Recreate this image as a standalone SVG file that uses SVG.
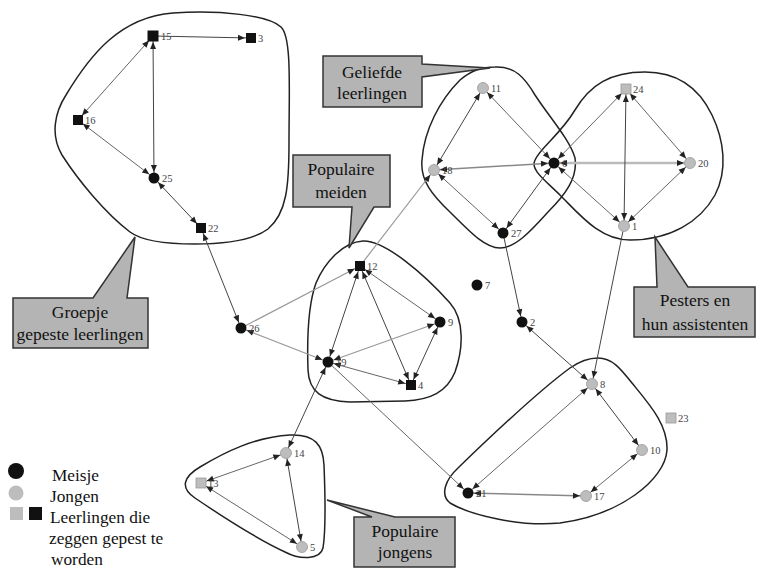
<svg xmlns="http://www.w3.org/2000/svg" width="758" height="569" viewBox="0 0 758 569">
<style>
.hull{fill:none;stroke:#222;stroke-width:1.5}
.call{fill:#b4b4b4;stroke:#333;stroke-width:1.5;stroke-linejoin:miter}
.ct{font-family:'Liberation Serif','DejaVu Serif',serif;font-size:17.5px;fill:#111;text-anchor:middle}
.lg{font-family:'Liberation Serif','DejaVu Serif',serif;font-size:17.3px;fill:#111}
.e{stroke:#444;stroke-width:1;fill:none}
.m{stroke:#666}
.l{stroke:#999;stroke-width:1.2}
.g{stroke:#888;stroke-width:1.6}
.t{stroke:#bbb;stroke-width:2.6}
.b{marker-start:url(#ah);marker-end:url(#ah)}
.f{marker-end:url(#ah)}
.bk{fill:#111}
.gr{fill:#bdbdbd;stroke:#999;stroke-width:0.8}
.nl{font-family:'Liberation Serif','DejaVu Serif',serif;font-size:10.5px;fill:#444}
</style>
<defs>
<marker id="ah" markerUnits="userSpaceOnUse" markerWidth="14" markerHeight="6" refX="13" refY="3" orient="auto-start-reverse" overflow="visible">
<path d="M0,0 L7,3 L0,6 Z" fill="#222"/>
</marker>
</defs>
<rect width="758" height="569" fill="#fff"/>

<g id="hulls">
<path class="hull" d="M 173,13 C 220,10 268,15 281,27 C 292,37 289,90 289,143 C 289,185 287,213 268,229 C 252,241 225,244 195,244 C 165,244 142,241 130,232 C 105,213 78,180 62,155 C 50,135 55,112 66,95 C 90,55 120,17 173,13 Z"/>
<path class="hull" d="M 363,241 C 385,240 425,275 450,303 C 465,320 463,350 455,372 C 447,392 430,400 405,401 L 350,402 C 322,401 309,392 308,370 C 307,340 308,305 316,283 C 325,262 343,242 363,241 Z"/>
<path class="hull" d="M 495,67 C 515,66 525,78 535,95 C 550,118 570,140 575,158 C 578,178 565,195 548,212 C 530,232 515,248 500,248 C 485,248 470,232 450,212 C 432,195 420,180 422,160 C 424,130 440,100 460,80 C 472,70 482,67 495,67 Z"/>
<path class="hull" d="M 645,72 C 680,72 700,90 712,115 C 724,140 728,170 715,195 C 700,222 670,240 630,240 C 600,240 580,215 560,195 C 545,180 530,170 535,160 C 540,148 560,135 575,110 C 590,85 610,72 645,72 Z"/>
<path class="hull" d="M 598,358 C 612,358 620,368 632,383 C 650,405 668,425 667,450 C 665,480 620,515 560,523 C 520,527 470,515 450,503 C 440,495 445,480 458,468 C 490,437 540,390 570,368 C 580,361 590,358 598,358 Z"/>
<path class="hull" d="M 290,435 C 315,434 323,445 324,465 C 325,490 326,530 323,548 C 320,560 300,560 285,552 C 255,538 220,515 195,498 C 180,488 183,477 200,467 C 225,452 255,437 290,435 Z"/>
</g>

<g id="callouts">
<g id="callout-groepje">
<path class="call" d="M13,298 L93,298 L135,237 L127,298 L148,298 L148,348 L13,348 Z"/>
<text class="ct" x="80" y="318">Groepje</text>
<text class="ct" x="80" y="340">gepeste leerlingen</text>
</g>
<g id="callout-meiden">
<path class="call" d="M293,155 L390,155 L390,207 L374,207 L349,248 L352,207 L293,207 Z"/>
<text class="ct" x="341" y="175">Populaire</text>
<text class="ct" x="341" y="198">meiden</text>
</g>
<g id="callout-geliefde">
<path class="call" d="M323,56 L422,56 L422,64 L490,68 L422,77 L422,107 L323,107 Z"/>
<text class="ct" x="372" y="78">Geliefde</text>
<text class="ct" x="372" y="99">leerlingen</text>
</g>
<g id="callout-pesters">
<path class="call" d="M634,287 L657,287 L655,237 L688,287 L755,287 L755,337 L634,337 Z"/>
<text class="ct" x="695" y="306">Pesters en</text>
<text class="ct" x="695" y="330">hun assistenten</text>
</g>
<g id="callout-jongens">
<path class="call" d="M354,517 L372,517 L327,500 L395,517 L455,517 L455,567 L354,567 Z"/>
<text class="ct" x="405" y="537">Populaire</text>
<text class="ct" x="405" y="558">jongens</text>
</g>
</g>

<g id="connectors">
<line class="e f" x1="153" y1="36" x2="251" y2="38"/>
<line class="e m b" x1="153" y1="36" x2="78" y2="120"/>
<line class="e b" x1="153" y1="36" x2="154" y2="178"/>
<line class="e m b" x1="78" y1="120" x2="154" y2="178"/>
<line class="e b" x1="154" y1="178" x2="201" y2="228"/>
<line class="e b" x1="201" y1="228" x2="241" y2="328"/>
<line class="e l f" x1="241" y1="328" x2="360" y2="266"/>
<line class="e l b" x1="241" y1="328" x2="328" y2="362"/>
<line class="e m b" x1="360" y1="266" x2="440" y2="322"/>
<line class="e b" x1="360" y1="266" x2="328" y2="362"/>
<line class="e b" x1="360" y1="266" x2="411" y2="385"/>
<line class="e l b" x1="328" y1="362" x2="440" y2="322"/>
<line class="e m b" x1="328" y1="362" x2="411" y2="385"/>
<line class="e b" x1="440" y1="322" x2="411" y2="385"/>
<line class="e l f" x1="360" y1="266" x2="434" y2="170"/>
<line class="e b" x1="328" y1="362" x2="286" y2="453"/>
<line class="e m f" x1="328" y1="362" x2="468" y2="493"/>
<line class="e b" x1="483" y1="88" x2="434" y2="170"/>
<line class="e m b" x1="483" y1="88" x2="554" y2="163"/>
<line class="e g b" x1="434" y1="170" x2="554" y2="163"/>
<line class="e m b" x1="434" y1="170" x2="503" y2="233"/>
<line class="e b" x1="554" y1="163" x2="503" y2="233"/>
<line class="e f" x1="503" y1="233" x2="522" y2="322"/>
<line class="e b" x1="522" y1="322" x2="592" y2="384"/>
<line class="e m b" x1="554" y1="163" x2="626" y2="89"/>
<line class="e t b" x1="554" y1="163" x2="690" y2="163"/>
<line class="e m b" x1="554" y1="163" x2="624" y2="226"/>
<line class="e b" x1="626" y1="89" x2="624" y2="226"/>
<line class="e m b" x1="626" y1="89" x2="690" y2="163"/>
<line class="e m b" x1="690" y1="163" x2="624" y2="226"/>
<line class="e f" x1="624" y1="226" x2="592" y2="384"/>
<line class="e b" x1="592" y1="384" x2="642" y2="450"/>
<line class="e m b" x1="592" y1="384" x2="468" y2="493"/>
<line class="e g b" x1="468" y1="493" x2="586" y2="496"/>
<line class="e m b" x1="586" y1="496" x2="642" y2="450"/>
<line class="e m b" x1="286" y1="453" x2="201" y2="483"/>
<line class="e b" x1="286" y1="453" x2="302" y2="547"/>
<line class="e m b" x1="201" y1="483" x2="302" y2="547"/>
</g>

<g id="node-15"><rect class="bk" x="147.5" y="30.5" width="11" height="11"/><text class="nl" x="161" y="40">15</text></g>
<g id="node-3"><rect class="bk" x="246" y="33" width="10" height="10"/><text class="nl" x="258" y="42">3</text></g>
<g id="node-16"><rect class="bk" x="73" y="115" width="10" height="10"/><text class="nl" x="85" y="124">16</text></g>
<g id="node-25"><circle class="bk" cx="154" cy="178" r="5.5"/><text class="nl" x="162" y="182">25</text></g>
<g id="node-22"><rect class="bk" x="196" y="223" width="10" height="10"/><text class="nl" x="208" y="232">22</text></g>
<g id="node-26"><circle class="bk" cx="241" cy="328" r="5.5"/><text class="nl" x="249" y="332">26</text></g>
<g id="node-12"><rect class="bk" x="355" y="261" width="10" height="10"/><text class="nl" x="367" y="270">12</text></g>
<g id="node-9"><circle class="bk" cx="440" cy="322" r="5.5"/><text class="nl" x="448" y="326">9</text></g>
<g id="node-19"><circle class="bk" cx="328" cy="362" r="5.5"/><text class="nl" x="336" y="366">19</text></g>
<g id="node-4"><rect class="bk" x="406" y="380" width="10" height="10"/><text class="nl" x="418" y="389">4</text></g>
<g id="node-7"><circle class="bk" cx="477" cy="285" r="5.5"/><text class="nl" x="485" y="289">7</text></g>
<g id="node-11"><circle class="gr" cx="483" cy="88" r="5.5"/><text class="nl" x="491" y="92">11</text></g>
<g id="node-18"><circle class="gr" cx="434" cy="170" r="5.5"/><text class="nl" x="442" y="174">18</text></g>
<g id="node-6"><circle class="bk" cx="554" cy="163" r="5.5"/><text class="nl" x="562" y="167">6</text></g>
<g id="node-27"><circle class="bk" cx="503" cy="233" r="5.5"/><text class="nl" x="511" y="237">27</text></g>
<g id="node-24"><rect class="gr" x="621" y="84" width="10" height="10"/><text class="nl" x="633" y="93">24</text></g>
<g id="node-20"><circle class="gr" cx="690" cy="163" r="5.5"/><text class="nl" x="698" y="167">20</text></g>
<g id="node-1"><circle class="gr" cx="624" cy="226" r="5.5"/><text class="nl" x="632" y="230">1</text></g>
<g id="node-2"><circle class="bk" cx="522" cy="322" r="5.5"/><text class="nl" x="530" y="326">2</text></g>
<g id="node-8"><circle class="gr" cx="592" cy="384" r="5.5"/><text class="nl" x="600" y="388">8</text></g>
<g id="node-23"><rect class="gr" x="666" y="413" width="10" height="10"/><text class="nl" x="678" y="422">23</text></g>
<g id="node-10"><circle class="gr" cx="642" cy="450" r="5.5"/><text class="nl" x="650" y="454">10</text></g>
<g id="node-17"><circle class="gr" cx="586" cy="496" r="5.5"/><text class="nl" x="594" y="500">17</text></g>
<g id="node-21"><circle class="bk" cx="468" cy="493" r="5.5"/><text class="nl" x="476" y="497">21</text></g>
<g id="node-14"><circle class="gr" cx="286" cy="453" r="5.5"/><text class="nl" x="294" y="457">14</text></g>
<g id="node-13"><rect class="gr" x="196" y="478" width="10" height="10"/><text class="nl" x="208" y="487">13</text></g>
<g id="node-5"><circle class="gr" cx="302" cy="547" r="5.5"/><text class="nl" x="310" y="551">5</text></g>

<g id="legend">
<circle class="bk" cx="16" cy="471" r="8"/>
<circle fill="#bdbdbd" cx="16" cy="493" r="7.5"/>
<rect fill="#bdbdbd" x="10" y="507" width="13" height="13"/>
<rect class="bk" x="29" y="507" width="13" height="13"/>
<text class="lg" x="52" y="481">Meisje</text>
<text class="lg" x="50" y="502">Jongen</text>
<text class="lg" x="50" y="523">Leerlingen die</text>
<text class="lg" x="49" y="544">zeggen gepest te</text>
<text class="lg" x="51" y="565">worden</text>
</g>
</svg>
